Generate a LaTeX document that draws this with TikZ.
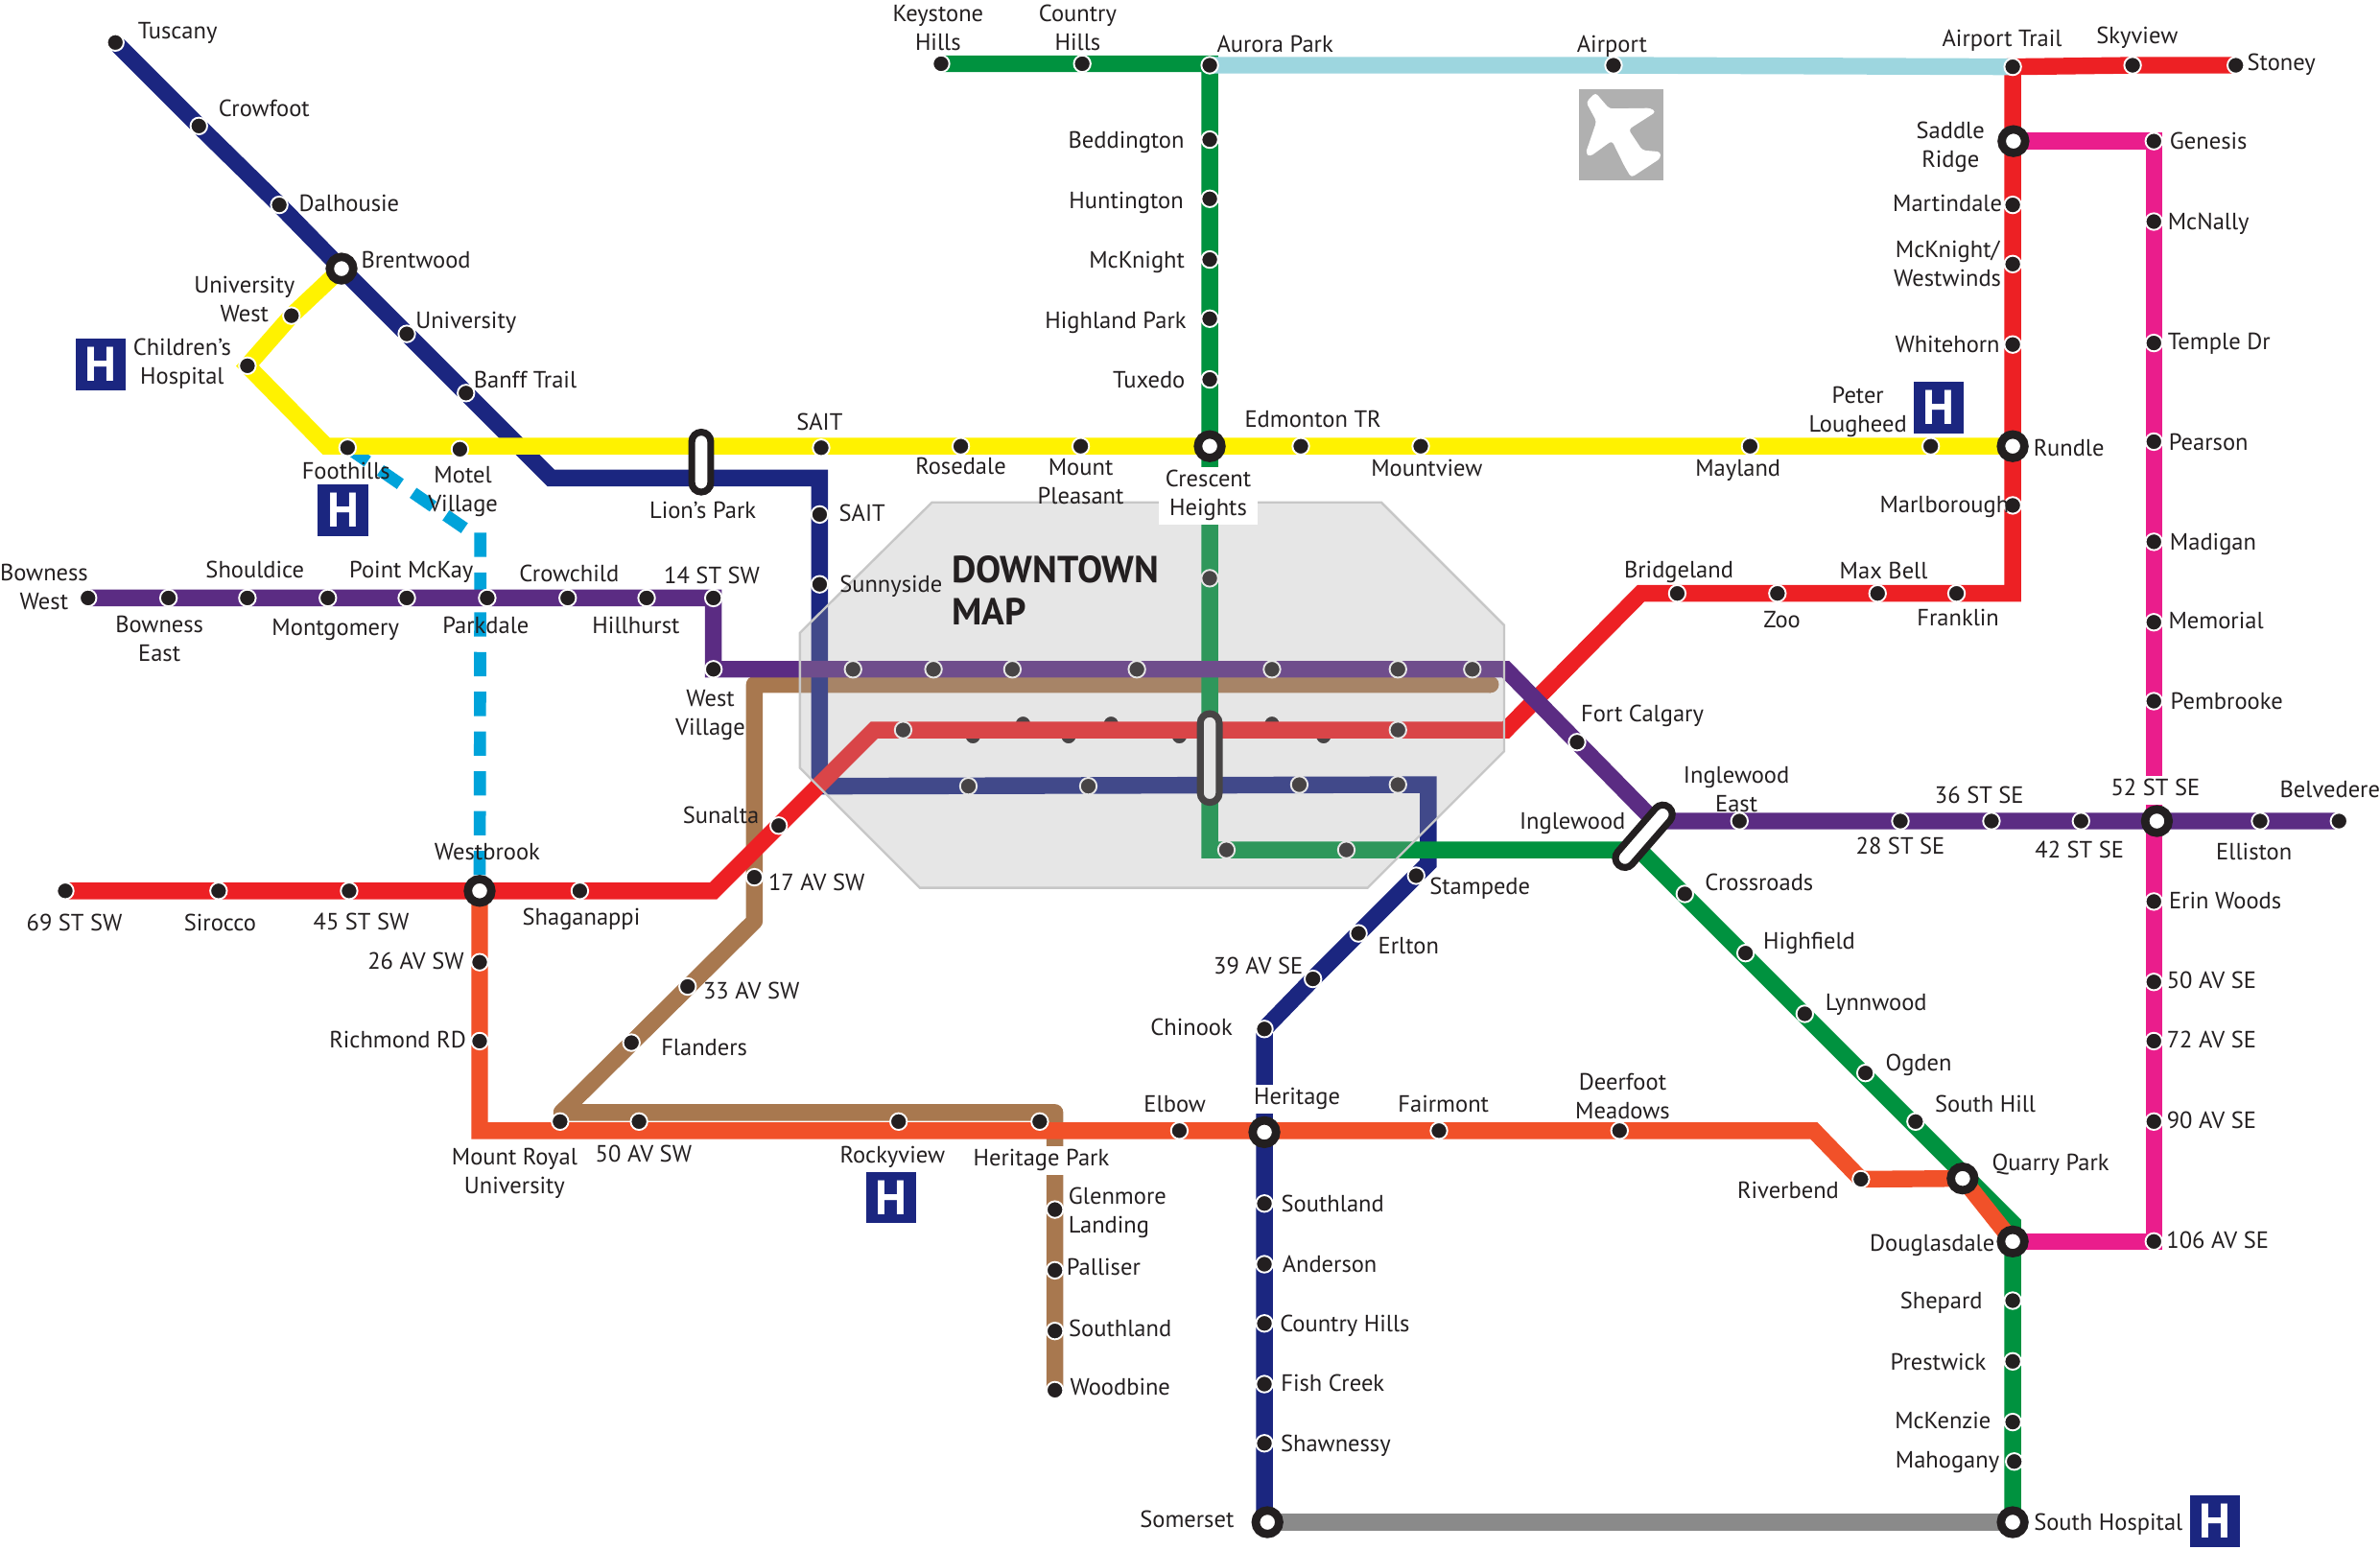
\documentclass[tikz,border=0pt]{standalone}
\usepackage{fontspec}
\setmainfont{PT Sans}
\usetikzlibrary{shapes.misc}
\definecolor{ink}{HTML}{231F20}
\definecolor{cNavy}{HTML}{1B2680}
\definecolor{cYellow}{HTML}{FFF200}
\definecolor{cPurple}{HTML}{5B2C83}
\definecolor{cRed}{HTML}{ED2024}
\definecolor{cOrange}{HTML}{F15129}
\definecolor{cGreen}{HTML}{00923F}
\definecolor{cPink}{HTML}{EA1D8C}
\definecolor{cTan}{HTML}{A8784F}
\definecolor{cSky}{HTML}{9DD6DF}
\definecolor{cDash}{HTML}{00A3DA}
\definecolor{cGray}{HTML}{8A8A8A}
\pgfdeclarelayer{under}\pgfdeclarelayer{lines}\pgfdeclarelayer{dt}\pgfdeclarelayer{glass}
\pgfsetlayers{under,lines,dt,glass,main}
\newcounter{lb}
\tikzset{
  stn/.style={circle,fill=ink,draw=white,line width=1.2pt,minimum size=11pt,inner sep=0pt,outer sep=0pt},
  hubn/.style={circle,fill=white,draw=ink,line width=5.5pt,minimum size=15.5pt,inner sep=0pt,outer sep=0pt},
  pill/.style={rounded rectangle,fill=white,draw=ink,line width=4.5pt,minimum height=12.5pt,inner sep=0pt,outer sep=0pt},
  lbl/.style={align=center,inner sep=0pt,outer sep=0pt,text=ink,yshift=-1.7pt,font=\fontsize{15.5}{19}\selectfont},
  track/.style={line width=11pt,line join=miter},
  hbox/.style={fill=cNavy,minimum width=33pt,minimum height=34pt,inner sep=0pt,text=white,font=\bfseries\fontsize{32}{32}\selectfont},
}
\newcommand\st[3]{\node[stn] (#1) at (#2,#3) {};}
\newcommand\hb[3]{\node[hubn] (#1) at (#2,#3) {};}
\newcommand\lab[4][]{\stepcounter{lb}\node[lbl,#1] (L\arabic{lb}) at (#2,#3) {\strut #4};}
\newcommand\labb[5][]{\stepcounter{lb}\node[lbl,#1] (L\arabic{lb}) at (#2,#3) {\strut #4\\\strut #5};}
\begin{document}
\begin{tikzpicture}[x=1pt,y=-1pt]
\useasboundingbox (0,0) rectangle (1568,1020.7);
% ---------- stations
% navy NW
\st{tusc}{76}{28}\st{crow}{131}{83}\st{dalh}{184}{135}\hb{brent}{225}{177}\st{univ}{268}{220}\st{banff}{307}{259}
\coordinate (nvA) at (363,315);\coordinate (nvB) at (540,315);
\st{saitN}{540}{339}\st{sunny}{540}{385}\coordinate (nvC) at (540,518);
\coordinate (nvD) at (941,517);\coordinate (nvE) at (941,569);
\st{stamp}{933}{577}\st{erl}{895}{615}\st{av39}{865}{645}\st{chin}{833}{678}\hb{herit}{833}{746}
\st{sthl}{833}{793}\st{ander}{833}{833}\st{cthl}{833}{872}\st{fish}{833}{912}\st{shaw}{833}{951}\hb{somer}{835}{1003}
\coordinate (nvF) at (833,1000);
% yellow
\st{uwest}{192}{208}\st{child}{163}{241}\coordinate (yA) at (215,294);
\st{foot}{229}{295}\st{motel}{303}{296}\st{saitY}{541}{295}\st{rose}{633}{294}\st{mtpl}{712}{294}\hb{cresc}{797}{294}
\st{edmo}{857}{294}\st{mtnv}{936}{294}\st{mayl}{1153}{294}\st{peter}{1272}{294}\hb{rund}{1326}{294}
% purple
\st{bwest}{58}{394}\st{beast}{111}{394}\st{shou}{163}{394}\st{mont}{216}{394}\st{ptmc}{268}{394}\st{park}{321}{394}
\st{crch}{374}{394}\st{hill}{426}{394}\st{st14}{470}{394}\st{wvil}{470}{441}
\coordinate (puA) at (992,441);\st{fort}{1039}{489}\coordinate (puB) at (1090,541);
\st{ingE}{1146}{541}\st{st28}{1252}{541}\st{st36}{1312}{541}\st{st42}{1371}{541}\hb{st52}{1421}{541}\st{ellis}{1489}{541}\st{belv}{1541}{541}
% tan
\coordinate (tnA) at (982,451);\coordinate (tnB) at (497,451);\coordinate (tnC) at (497,607);\coordinate (tnD) at (370,733);\coordinate (tnE) at (695,733);
\st{av17}{497}{578}\st{av33}{453}{650}\st{fland}{416}{687}\st{mtry}{369}{739}\st{av50}{421}{739}\st{rocky}{592}{739}\st{hpark}{685}{739}
\st{glen}{695}{797}\st{pall}{695}{837}\st{sthb}{695}{877}\st{wood}{695}{916}
% red
\st{s69}{43}{587}\st{siro}{144}{587}\st{s45}{230}{587}\hb{westb}{316}{587}\st{shag}{382}{587}\coordinate (rdA) at (470,587);
\st{suna}{513}{544}\coordinate (rdB) at (576,481);\coordinate (rdC) at (992,481);\coordinate (rdD) at (1081,391);
\st{brid}{1105}{391}\st{zoo}{1171}{391}\st{maxb}{1237}{391}\st{fran}{1289}{391}\coordinate (rdE) at (1326,391);
\st{marl}{1326}{333}\st{whit}{1326}{227}\st{mckw}{1326}{174}\st{mart}{1326}{135}\hb{sadd}{1326.5}{93}\st{airt}{1326}{44}\st{skyv}{1405}{43}\st{ston}{1473}{43}
% orange
\st{av26}{316}{634}\st{rich}{316}{686}\coordinate (orA) at (316,745);\st{elbow}{777}{745}\st{fair}{948}{745}\st{deer}{1067}{745}\coordinate (orB) at (1195,745);
\st{river}{1226}{777}\hb{quarry}{1293}{776.5}\hb{doug}{1326}{818}
% green
\st{keys}{620}{42}\st{cthn}{713}{42}\coordinate (grT) at (797,42);\st{aur}{797}{43}\st{bedd}{797}{92}\st{hunt}{797}{131}\st{mckn}{797}{171}\st{high}{797}{210}\st{tux}{797}{250}
\coordinate (grA) at (797,560);\coordinate (grB) at (1080,560);\coordinate (grC) at (1326,806);
\st{cros}{1110}{589}\st{hfld}{1150}{628}\st{lynn}{1189}{668}\st{ogd}{1229}{707}\st{shil}{1262}{739}
\st{shep}{1326}{857}\st{pres}{1326}{897}\st{mcke}{1326}{937}\st{maho}{1327}{963}\hb{shosp}{1326}{1003}
% sky
\st{airp}{1063}{43}
% pink
\st{gene}{1419}{93}\st{mcna}{1419}{146}\st{temp}{1419}{226}\st{pear}{1419}{291}\st{madi}{1419}{357}\st{memo}{1419}{410}\st{pemb}{1419}{462}
\st{erin}{1419}{594}\st{sav50}{1419}{647}\st{sav72}{1419}{686}\st{sav90}{1419}{739}\st{sav106}{1419}{818}
% dashed waypoints
\coordinate (dsA) at (306,348);\coordinate (dsB) at (316.5,351);
% ---------- downtown stations
\begin{pgfonlayer}{under}
\st{dr1}{674}{477}\st{dr2}{732}{477}\st{dr3}{838}{477}
\st{dr4}{641}{485}\st{dr5}{704}{485}\st{dr6}{777}{485}\st{dr7}{872}{485}
\end{pgfonlayer}
\begin{pgfonlayer}{dt}
\st{dp1}{562}{441}\st{dp2}{615}{441}\st{dp3}{667}{441}\st{dp4}{749}{441}\st{dp5}{838}{441}\st{dp6}{921}{441}\st{dp7}{970}{441}
\st{dq1}{595}{481}\st{dq2}{921}{481}
\st{dn1}{638}{518}\st{dn2}{717}{518}\st{dn3}{856}{517}\st{dn4}{921}{517}
\st{dg1}{797}{381}\st{dg2}{808}{560}\st{dg3}{887}{560}
\node[pill,minimum width=58.5pt,rotate=90] (dtpill) at (797,499.5) {};
\end{pgfonlayer}
% ---------- tracks
\begin{pgfonlayer}{lines}
\draw[track,cTan,line join=round] (tnA) -- (tnB) -- (tnC) -- (tnD) -- (tnE) -- (wood.center);
\draw[track,cTan,line cap=round] (tnA) -- (tnA);
\draw[track,cNavy] (tusc.center) -- (crow.center) -- (dalh.center) -- (brent.center) -- (univ.center) -- (banff.center) -- (nvA) -- (nvB) -- (saitN.center) -- (sunny.center) -- (nvC) -- (nvD) -- (nvE) -- (stamp.center) -- (erl.center) -- (av39.center) -- (chin.center) -- (herit.center) -- (sthl.center) -- (ander.center) -- (cthl.center) -- (fish.center) -- (shaw.center) -- (nvF);
\draw[track,cGreen] (keys.center) -- (cthn.center) -- (grT) -- (bedd.center) -- (hunt.center) -- (mckn.center) -- (high.center) -- (tux.center) -- (cresc.center) -- (grA) -- (grB) -- (grC) -- (doug.center) -- (shep.center) -- (pres.center) -- (mcke.center) -- (shosp.center);
\draw[track,cOrange] (westb.center) -- (av26.center) -- (rich.center) -- (orA) -- (orB) -- (river.center) -- (quarry.center) -- (doug.center);
\draw[line width=8pt,cDash,dash pattern=on 16pt off 10.2pt] (foot.center) -- (dsA) (dsB) -- (westb.center);
\draw[track,cRed] (s69.center) -- (siro.center) -- (s45.center) -- (westb.center) -- (shag.center) -- (rdA) -- (suna.center) -- (rdB) -- (rdC) -- (rdD) -- (brid.center) -- (zoo.center) -- (maxb.center) -- (fran.center) -- (rdE) -- (marl.center) -- (rund.center) -- (whit.center) -- (mckw.center) -- (mart.center) -- (airt.center) -- (skyv.center) -- (ston.center);
\draw[track,cPurple] (bwest.center) -- (beast.center) -- (shou.center) -- (mont.center) -- (ptmc.center) -- (park.center) -- (crch.center) -- (hill.center) -- (st14.center) -- (wvil.center) -- (puA) -- (fort.center) -- (puB) -- (ingE.center) -- (st28.center) -- (st36.center) -- (st42.center) -- (st52.center) -- (ellis.center) -- (belv.center);
\draw[track,cYellow] (brent.center) -- (uwest.center) -- (child.center) -- (yA) -- (cresc.center) -- (edmo.center) -- (mtnv.center) -- (mayl.center) -- (peter.center) -- (rund.center);
\draw[track,cPink] (sadd.center) -- (gene.center) -- (mcna.center) -- (temp.center) -- (pear.center) -- (madi.center) -- (memo.center) -- (pemb.center) -- (erin.center) -- (sav50.center) -- (sav72.center) -- (sav90.center) -- (sav106.center) -- (doug.center);
\draw[track,cSky] (aur.center) -- (airp.center) -- (airt.center);
\draw[track,cGray] (somer.center) -- (shosp.center);
\end{pgfonlayer}
% ---------- downtown panel
\begin{pgfonlayer}{glass}
\draw[fill=black!35,fill opacity=.28,draw=black!22,line width=1.5pt] (614,331) -- (910,331) -- (991,412) -- (991,495) -- (901,585) -- (606,585) -- (527,506) -- (527,417) -- cycle;
\end{pgfonlayer}
% ---------- interchanges
\node[pill,minimum width=39.5pt,rotate=90] (lions) at (462,304.5) {};
\node[pill,minimum width=50.5pt,rotate=49] (ingl) at (1083,551) {};
% ---------- airport icon and hospitals
\node[fill=black!31,minimum width=55.5pt,minimum height=60.5pt,inner sep=0pt] (airbox) at (1068,88.8) {};
\fill[white,rounded corners=2.2pt] (1051.1,61) -- (1060.2,71.6) -- (1087.4,71.2) -- (1091,73.7) -- (1072.9,85.3) -- (1082,99) -- (1094,100) -- (1094,104.3) -- (1074.7,117) -- (1070.3,109.6) -- (1062,92.7) -- (1047.5,103.2) -- (1044.6,101.1) -- (1051.8,80) -- (1045,67.4) -- cycle;
\node[hbox] (h1) at (66.5,240) {H};
\node[hbox] (h2) at (226,336.3) {H};
\node[hbox] (h3) at (1277.5,268.5) {H};
\node[hbox] (h4) at (587.3,789) {H};
\node[hbox] (h5) at (1459.5,1002.5) {H};
% ---------- labels
\lab{117}{20}{Tuscany}\lab{174}{71}{Crowfoot}\lab{230}{134}{Dalhousie}\lab{274}{171}{Brentwood}
\labb{161}{197}{University}{West}\lab{307}{211}{University}\lab{346}{250}{Banff Trail}
\labb{120}{238}{Children’s}{Hospital}\lab{228}{310}{Foothills}\labb{305}{322}{Motel}{Village}
\lab{463}{336}{Lion’s Park}\lab{540}{278}{SAIT}\lab{568}{338}{SAIT}\lab{587}{385}{Sunnyside}
\lab{633}{307}{Rosedale}\labb{712}{317}{Mount}{Pleasant}
\labb[fill=white,minimum width=65pt]{796}{325}{Crescent}{Heights}
\lab{865}{276}{Edmonton TR}\lab{940}{308}{Mountview}\lab{1145}{308}{Mayland}
\labb{1224}{269.5}{Peter}{Lougheed}\lab{1363}{295}{Rundle}\lab{1281}{332}{Marlborough}
\labb{29}{386.5}{Bowness}{West}\labb{105}{420.5}{Bowness}{East}\lab{168}{375}{Shouldice}\lab{221}{413}{Montgomery}
\lab{271}{375}{Point McKay}\lab{320}{412}{Parkdale}\lab{375}{378}{Crowchild}\lab{419}{412}{Hillhurst}\lab{469}{379}{14 ST SW}
\labb{468}{469.5}{West}{Village}
\lab{1106}{375}{Bridgeland}\lab{1174}{408}{Zoo}\lab{1241}{376}{Max Bell}\lab{1290}{407}{Franklin}\lab{1082}{470}{Fort Calgary}
\labb{1144}{520}{Inglewood}{East}\lab{1036}{541}{Inglewood}\lab{1304}{524}{36 ST SE}\lab{1252}{557}{28 ST SE}\lab{1370}{560}{42 ST SE}
\lab[fill=white]{1420}{519}{52 ST SE}\lab{1535}{520}{Belvedere}\lab{1485}{561}{Elliston}
\lab{321}{561}{Westbrook}\lab{49}{608}{69 ST SW}\lab{145}{608}{Sirocco}\lab{238}{607}{45 ST SW}\lab{383}{604}{Shaganappi}
\lab{475}{537}{Sunalta}\lab{538}{581}{17 AV SW}\lab{274}{633}{26 AV SW}\lab{262}{685}{Richmond RD}\lab{495}{653}{33 AV SW}\lab{464}{690}{Flanders}
\labb{339}{771.5}{Mount Royal}{University}\lab{424}{760}{50 AV SW}\lab{588}{761}{Rockyview}\lab[fill=white]{686}{763}{Heritage Park}
\lab{774}{727}{Elbow}\lab[fill=white]{854.5}{722.3}{Heritage}\lab{951}{727}{Fairmont}\labb{1069}{722.5}{Deerfoot}{Meadows}
\lab{1178}{784}{Riverbend}\lab{1351}{766}{Quarry Park}\lab{1273}{819}{Douglasdale}\lab{1308}{727}{South Hill}\lab{1264}{700}{Ogden}
\lab{1236}{660}{Lynnwood}\lab{1192}{620}{Highfield}\lab{1159}{581}{Crossroads}
\lab{975}{584}{Stampede}\lab{928}{623}{Erlton}\lab{829}{636}{39 AV SE}\lab{785}{677}{Chinook}
\lab{878}{793}{Southland}\lab{876}{833}{Anderson}\lab{886}{872}{Country Hills}\lab{878}{911}{Fish Creek}\lab{880}{951}{Shawnessy}
\lab{782}{1001}{Somerset}\lab{1389}{1003}{South Hospital}
\stepcounter{lb}\node[lbl,align=left,anchor=west] (L\arabic{lb}) at (704,797.5) {\strut Glenmore\\\strut Landing};
\lab{727}{835}{Palliser}\lab{738}{875}{Southland}\lab{738}{914}{Woodbine}
\lab{1279}{857}{Shepard}\lab{1277}{897}{Prestwick}\lab{1280}{936}{McKenzie}\lab{1283}{962}{Mahogany}
\lab{1455}{93}{Genesis}\lab{1455}{146}{McNally}\lab{1462}{225}{Temple Dr}\lab{1455}{291}{Pearson}\lab{1458}{357}{Madigan}\lab{1460}{409}{Memorial}\lab{1467}{462}{Pembrooke}
\lab{1466}{593}{Erin Woods}\lab{1457}{646}{50 AV SE}\lab{1457}{685}{72 AV SE}\lab{1457}{738}{90 AV SE}\lab{1461}{817}{106 AV SE}
\lab{1503}{41}{Stoney}\lab{1408}{23}{Skyview}\lab{1319}{25}{Airport Trail}\lab{1062}{29}{Airport}\lab{840}{29}{Aurora Park}
\labb{618}{18}{Keystone}{Hills}\labb{710}{18}{Country}{Hills}
\lab{742}{92}{Beddington}\lab{742}{132}{Huntington}\lab{749}{171}{McKnight}\lab{735}{211}{Highland Park}\lab{757}{250}{Tuxedo}
\labb{1285}{95.5}{Saddle}{Ridge}\lab{1283}{134}{Martindale}\labb{1283}{173.5}{McKnight/}{Westwinds}\lab{1283}{227}{Whitehorn}
\node[lbl,align=left,anchor=west,font=\bfseries\fontsize{24.8}{28}\selectfont] (dtmap) at (627,390.5) {\strut DOWNTOWN\\\strut MAP};
\end{tikzpicture}
\end{document}
